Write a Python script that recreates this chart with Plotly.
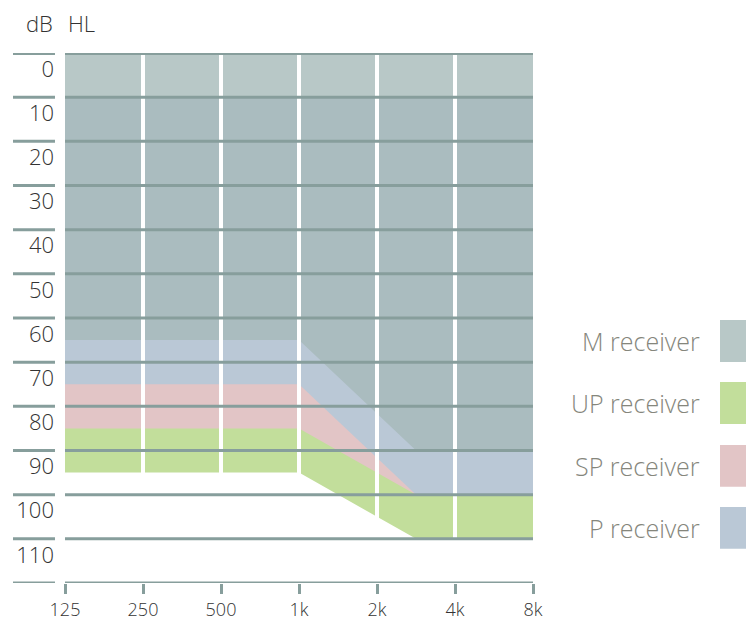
import plotly.graph_objects as go

# ---- data ----
freq_ticks = [125, 250, 500, 1000, 2000, 4000, 8000]
freq_tick_labels = ["125", "250", "500", "1k", "2k", "4k", "8k"]
db_ticks = [0, 10, 20, 30, 40, 50, 60, 70, 80, 90, 100, 110]
grid_db = [-5, 5, 15, 25, 35, 45, 55, 65, 75, 85, 95, 105, 115]

# fitting-range boundaries (lower edge, dB HL) at breakpoint frequencies
break_freq = [125, 1000, 2830, 8000]
m_lower = [60, 60, 85, 85]
p_lower = [70, 70, 95, 95]
sp_lower = [80, 80, 95, 95]
up_lower = [90, 90, 105, 105]
range_top = 5
top_band = [-5, 5]

receivers = ["M receiver", "UP receiver", "SP receiver", "P receiver"]
receiver_colors = ["#b8c8c7", "#c2de9b", "#e2c5c6", "#bac8d6"]
m_fill = "#aabcbf"
grid_color = "#879e9c"

FONT = "Open Sans, Noto Sans, sans-serif"

fig = go.Figure()

def area(lower, color):
    xs = [break_freq[0], break_freq[-1]] + break_freq[::-1]
    ys = [range_top, range_top] + lower[::-1]
    fig.add_trace(go.Scatter(x=xs, y=ys, fill="toself", fillcolor=color,
                             mode="lines", line=dict(width=0), hoverinfo="skip",
                             showlegend=False))

area(up_lower, receiver_colors[1])
area(sp_lower, receiver_colors[2])
area(p_lower, receiver_colors[3])
area(m_lower, m_fill)
# lighter top band
fig.add_trace(go.Scatter(x=[break_freq[0], break_freq[-1], break_freq[-1], break_freq[0]],
                         y=[top_band[0], top_band[0], top_band[1], top_band[1]],
                         fill="toself", fillcolor=receiver_colors[0], mode="lines",
                         line=dict(width=0), hoverinfo="skip", showlegend=False))

shapes = []
# white vertical separators
for f in freq_ticks[1:-1]:
    shapes.append(dict(type="line", xref="x", yref="y", x0=f, x1=f,
                       y0=grid_db[0], y1=grid_db[-1], line=dict(color="white", width=4),
                       layer="above"))
# horizontal gridlines in plot
for i, g in enumerate(grid_db):
    shapes.append(dict(type="line", xref="paper", yref="y", x0=0, x1=1, y0=g, y1=g,
                       line=dict(color=grid_color, width=4 if i == 0 else 3), layer="above"))
    # left short segments
    shapes.append(dict(type="line", xref="paper", yref="y", x0=-0.1111, x1=-0.0214,
                       y0=g, y1=g, line=dict(color=grid_color, width=4 if i == 0 else 3),
                       layer="above"))

# custom legend (text left of swatch)
leg_top = [0.4962, 0.3792, 0.2604, 0.1434]
leg_h = 0.079
annotations = []
for name, col, yt in zip(receivers, receiver_colors, leg_top):
    shapes.append(dict(type="rect", xref="paper", yref="paper", x0=1.3996, x1=1.48,
                       y0=yt - leg_h, y1=yt, fillcolor=col, line=dict(width=0)))
    annotations.append(dict(xref="paper", yref="paper", x=1.361, y=yt - leg_h / 2,
                            xanchor="right", yanchor="middle", text=name, showarrow=False,
                            font=dict(family=FONT, size=25, color="#85867c", weight=300)))

annotations.append(dict(xref="paper", yref="paper", x=-0.022, y=1.057, xanchor="right",
                        yanchor="middle", text="dB", showarrow=False,
                        font=dict(family=FONT, size=22, color="#333333", weight=300)))
annotations.append(dict(xref="paper", yref="paper", x=0.002, y=1.057, xanchor="left",
                        yanchor="middle", text="HL", showarrow=False,
                        font=dict(family=FONT, size=22, color="#333333", weight=300)))

# page body has an 8px default margin; figure sized to fill the remaining window
fig.update_layout(
    template="none",
    width=746, height=613,
    margin=dict(l=57, r=221, t=45, b=38, autoexpand=False),
    paper_bgcolor="white", plot_bgcolor="white",
    font=dict(family=FONT, color="#333333"),
    shapes=shapes, annotations=annotations, showlegend=False,
)
fig.update_xaxes(type="log", range=[2.09691, 3.90309], tickvals=freq_ticks,
                 ticktext=freq_tick_labels, showgrid=False, zeroline=False, showline=False,
                 automargin=False,
                 ticks="outside", ticklen=10, tickwidth=3, tickcolor=grid_color,
                 tickfont=dict(family=FONT, size=18, color="#333333", weight=300))
fig.update_yaxes(range=[115, -5], tickvals=db_ticks, showgrid=False, zeroline=False,
                 showline=False, ticks="", ticklabelstandoff=10, ticklabelshift=6,
                 automargin=False,
                 tickfont=dict(family=FONT, size=22, color="#333333", weight=300))

fig.write_html("out.html")
